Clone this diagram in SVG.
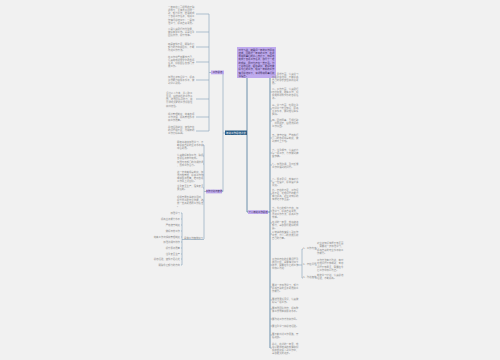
<svg xmlns="http://www.w3.org/2000/svg" width="500" height="360" viewBox="0 0 500 360">
<style>
.t{font-family:"Noto Sans CJK SC","Noto Sans",sans-serif;font-size:2.4px;fill:#8c8c8c}
.c{stroke:#8fa9bf;stroke-width:0.7;fill:none}
.cr{stroke:#4a7699;stroke-width:0.8;fill:none}
.p{fill:#bfaaee}
.pt{font-family:"Noto Sans CJK SC","Noto Sans",sans-serif;font-size:2.4px;fill:#3a2a5a}
</style>
<rect width="500" height="360" fill="#f1f1f1"/>
<g id="connectors">
<path class="c" d="M225 133H223M223 72.5V191.5M223 72.5H224M223 191.5H222"/>
<path class="c" d="M211 72.5H209M209 14V131M196 14H209M196 32H209M196 47H209M196 62H209M196 80H209M196 99H209M196 117H209M196 131H209"/>
<path class="c" d="M206 191.5H204M204 145V239M203 145H204M203 156H204M203 164H204M203 175H204M203 188H204M203 201H204M184 239.5H204"/>
<path class="c" d="M184 239.5H182M182 213V265M181 213H182M181 219H182M181 225H182M181 231H182M181 237H182M181 242H182M181 248H182M181 254H182M181 259H182M181 265H182"/>
<path class="cr" d="M247 133V78M247 133V212H248"/>
<path class="cr" d="M268 212H270M270 77V348"/>
<path class="c" d="M270 77H272M270 92H272M270 109H272M270 121H272M270 138H272M270 153H272M270 165H272M270 181H272M270 194H272M270 211H272M270 223H272M270 234H272M270 287H272M270 300H272M270 309H272M270 319H272M270 326H272M270 335H272M270 348H272"/>
<path class="c" d="M270 265H272M297 265H302M302 249V278M302 249H303M302 278H303M315 249H317M315 265H317M315 278H317"/>
</g>
<g id="center">
<rect x="225" y="130.5" width="22" height="4.5" fill="#2b5d86"/>
<text x="236" y="133.7" font-family="Noto Sans CJK SC,sans-serif" font-size="2.5" fill="#fff" text-anchor="middle">年终工作总结范文</text>
</g>
<g id="L1">
<rect class="p" x="211" y="70.5" width="13" height="3.8"/>
<text class="pt" x="217.5" y="73.2" text-anchor="middle">工作总结</text>
</g>
<g id="L1-children">
<text class="t" x="168" y="7.5"><tspan>一年来在公司领导的正确</tspan><tspan x="168" dy="3.3">领导下，全体员工团结一</tspan><tspan x="168" dy="3.3">致，努力工作，圆满完成</tspan><tspan x="168" dy="3.3">了各项工作任务，现将工</tspan><tspan x="168" dy="3.3">作情况总结如下：一是加</tspan><tspan x="168" dy="3.3">强学习，提高自身素质。</tspan></text>
<text class="t" x="168" y="29.5"><tspan>二是认真履行岗位职责，</tspan><tspan x="168" dy="3.3">做好本职工作。三是注重</tspan><tspan x="168" dy="3.3">团队协作，提升效率。</tspan></text>
<text class="t" x="168" y="44.5"><tspan>四是查找不足，明确今后</tspan><tspan x="168" dy="3.3">努力的方向和目标，不断</tspan><tspan x="168" dy="3.3">改进工作方法。</tspan></text>
<text class="t" x="168" y="57.5"><tspan>在工作中严格要求自己，</tspan><tspan x="168" dy="3.3">认真完成领导交办的各项</tspan><tspan x="168" dy="3.3">任务，积极配合各部门开</tspan><tspan x="168" dy="3.3">展工作。</tspan></text>
<text class="t" x="168" y="77.5"><tspan>加强业务知识学习，提高</tspan><tspan x="168" dy="3.3">工作能力和服务水平，做</tspan><tspan x="168" dy="3.3">到学以致用。</tspan></text>
<text class="t" x="166" y="93.5"><tspan>坚持以人为本，关心职工</tspan><tspan x="166" dy="3.3">生活，营造和谐的工作氛</tspan><tspan x="166" dy="3.3">围，增强团队凝聚力，充</tspan><tspan x="166" dy="3.3">分调动大家的工作积极性</tspan><tspan x="166" dy="3.3">和创造性。</tspan></text>
<text class="t" x="168" y="114.5"><tspan>规范管理制度，完善各项</tspan><tspan x="168" dy="3.3">工作流程，提高管理水平</tspan><tspan x="168" dy="3.3">和工作质量。</tspan></text>
<text class="t" x="168" y="127.5"><tspan>总结经验教训，查找存在</tspan><tspan x="168" dy="3.3">的问题和不足，为明年的</tspan><tspan x="168" dy="3.3">工作打好基础。</tspan></text>
</g>
<g id="L2">
<rect class="p" x="206" y="189.6" width="16" height="3.8"/>
<text class="pt" x="214" y="192.3" text-anchor="middle">工作计划与安排</text>
</g>
<g id="L2-children">
<text class="t" x="177" y="142.5"><tspan>明年将继续加强学习，不</tspan><tspan x="177" dy="3.3">断提高自身的业务水平和</tspan><tspan x="177" dy="3.3">综合素质。</tspan></text>
<text class="t" x="177" y="156"><tspan>认真做好本职工作，确保</tspan><tspan x="177" dy="3.3">各项任务按时完成。</tspan></text>
<text class="t" x="177" y="163"><tspan>加强与各部门的沟通协调</tspan><tspan x="177" dy="3.3">，形成工作合力。</tspan></text>
<text class="t" x="177" y="172.5"><tspan>进一步完善规章制度，加</tspan><tspan x="177" dy="3.3">强内部管理，提高工作效</tspan><tspan x="177" dy="3.3">率和服务质量，推动各项</tspan><tspan x="177" dy="3.3">工作再上新台阶。</tspan></text>
<text class="t" x="177" y="187"><tspan>注重安全生产，落实安全</tspan><tspan x="177" dy="3.3">责任制。</tspan></text>
<text class="t" x="177" y="197.5"><tspan>积极开展各类培训活动，</tspan><tspan x="177" dy="3.3">提升员工的专业技能，培</tspan><tspan x="177" dy="3.3">养一支高素质的工作队伍</tspan><tspan x="177" dy="3.3">。</tspan></text>
</g>
<g id="S">
<text class="t" x="184" y="238.8">具体工作措施如下</text>
</g>
<g id="S-children">
<text class="t" x="180" y="213.8" text-anchor="end">加强学习</text>
<text class="t" x="180" y="219.8" text-anchor="end">提高业务能力水平</text>
<text class="t" x="180" y="225.8" text-anchor="end">严格遵守制度</text>
<text class="t" x="180" y="231.8" text-anchor="end">做好日常工作</text>
<text class="t" x="180" y="237.8" text-anchor="end">完善工作流程和管理制度</text>
<text class="t" x="180" y="242.8" text-anchor="end">加强沟通与协作</text>
<text class="t" x="180" y="248.8" text-anchor="end">提升服务质量</text>
<text class="t" x="180" y="254.8" text-anchor="end">注重安全生产</text>
<text class="t" x="180" y="259.8" text-anchor="end">总结经验，查找不足之处</text>
<text class="t" x="180" y="265.8" text-anchor="end">明确今后努力的方向</text>
</g>
<g id="R1">
<rect class="p" x="237" y="47" width="39" height="31"/>
<text class="pt" x="238.5" y="50.5"><tspan>时光飞逝，转眼间一年的工作即将</tspan><tspan x="238.5" dy="3.3">结束，回顾这一年来的工作，在领</tspan><tspan x="238.5" dy="3.3">导和同事们的关心支持下，较好地</tspan><tspan x="238.5" dy="3.3">完成了各项工作任务，取得了一定</tspan><tspan x="238.5" dy="3.3">的成绩，同时也存在一些不足。为</tspan><tspan x="238.5" dy="3.3">了总结经验，吸取教训，更好地做</tspan><tspan x="238.5" dy="3.3">好今后的工作，现将一年来的工作</tspan><tspan x="238.5" dy="3.3">情况总结如下，请领导和同事们批</tspan><tspan x="238.5" dy="3.3">评指正。</tspan></text>
</g>
<g id="R2">
<rect class="p" x="248" y="210.2" width="20" height="3.8"/>
<text class="pt" x="258" y="212.9" text-anchor="middle">个人年终工作总结</text>
</g>
<g id="R2-children">
<text class="t" x="272" y="74.5"><tspan>一、思想方面，认真学习</tspan><tspan x="272" dy="3.3">各项政策法规，不断提高</tspan><tspan x="272" dy="3.3">自己的思想觉悟和政治素</tspan><tspan x="272" dy="3.3">质。</tspan></text>
<text class="t" x="272" y="89.5"><tspan>二、工作方面，认真履行</tspan><tspan x="272" dy="3.3">岗位职责，踏实工作，积</tspan><tspan x="272" dy="3.3">极完成领导交办的各项任</tspan><tspan x="272" dy="3.3">务。</tspan></text>
<text class="t" x="272" y="105.5"><tspan>三、学习方面，利用业余</tspan><tspan x="272" dy="3.3">时间学习专业知识，提高</tspan><tspan x="272" dy="3.3">业务水平，做到理论联系</tspan><tspan x="272" dy="3.3">实际。</tspan></text>
<text class="t" x="272" y="120.5"><tspan>四、团结同事，互相帮助</tspan><tspan x="272" dy="3.3">，共同进步，营造良好的</tspan><tspan x="272" dy="3.3">工作氛围。</tspan></text>
<text class="t" x="272" y="135.5"><tspan>五、遵守纪律，严格执行</tspan><tspan x="272" dy="3.3">公司的各项规章制度，做</tspan><tspan x="272" dy="3.3">到按时上下班。</tspan></text>
<text class="t" x="272" y="150.5"><tspan>六、注重细节，认真对待</tspan><tspan x="272" dy="3.3">每一项工作，力求做到精</tspan><tspan x="272" dy="3.3">益求精。</tspan></text>
<text class="t" x="272" y="164.5"><tspan>七、加强沟通，及时反馈</tspan><tspan x="272" dy="3.3">工作中遇到的问题。</tspan></text>
<text class="t" x="272" y="179.5"><tspan>八、服务意识，热情对待</tspan><tspan x="272" dy="3.3">每一位客户，提高客户满</tspan><tspan x="272" dy="3.3">意度。</tspan></text>
<text class="t" x="272" y="190.5"><tspan>九、存在的不足，工作经</tspan><tspan x="272" dy="3.3">验不足，处理问题的能力</tspan><tspan x="272" dy="3.3">有待提高，对业务知识的</tspan><tspan x="272" dy="3.3">掌握还不够全面。</tspan></text>
<text class="t" x="272" y="208.5"><tspan>十、今后的努力方向，加</tspan><tspan x="272" dy="3.3">强学习，提高自身素质，</tspan><tspan x="272" dy="3.3">改进工作方法，提高工作</tspan><tspan x="272" dy="3.3">效率。</tspan></text>
<text class="t" x="272" y="222.5"><tspan>在新的一年里，我将继续</tspan><tspan x="272" dy="3.3">努力，争取取得更好的成</tspan><tspan x="272" dy="3.3">绩。</tspan></text>
<text class="t" x="272" y="232.5"><tspan>以饱满的热情投入到工作</tspan><tspan x="272" dy="3.3">中去，为公司的发展贡献</tspan><tspan x="272" dy="3.3">自己的力量。</tspan></text>
<text class="t" x="272" y="259.5"><tspan>工作中存在的主要问题及</tspan><tspan x="272" dy="3.3">原因分析，具体情况如下</tspan><tspan x="272" dy="3.3">所示，需要在今后的工作</tspan><tspan x="272" dy="3.3">中加以改进：</tspan></text>
<text class="t" x="272" y="285.5"><tspan>要进一步加强学习，努力</tspan><tspan x="272" dy="3.3">提高自身的业务素质和工</tspan><tspan x="272" dy="3.3">作能力。</tspan></text>
<text class="t" x="272" y="299.5"><tspan>要增强责任意识，认真做</tspan><tspan x="272" dy="3.3">好每一项工作。</tspan></text>
<text class="t" x="272" y="308.5"><tspan>要加强团队协作，提高整</tspan><tspan x="272" dy="3.3">体工作效率和服务水平。</tspan></text>
<text class="t" x="272" y="320">要改进工作方法和作风。</text>
<text class="t" x="272" y="327">要注重学习和总结经验。</text>
<text class="t" x="272" y="335"><tspan>要不断创新工作思路，开</tspan><tspan x="272" dy="3.3">拓进取。</tspan></text>
<text class="t" x="272" y="344.5"><tspan>总之，在新的一年里，我</tspan><tspan x="272" dy="3.3">将以更加饱满的热情和积</tspan><tspan x="272" dy="3.3">极的态度投入到工作中，</tspan><tspan x="272" dy="3.3">争取更大的进步。</tspan></text>
</g>
<g id="R3">
<text class="t" x="303" y="248.8">1、工作内容</text>
<text class="t" x="303" y="264.8">2、存在问题</text>
<text class="t" x="303" y="277.8">3、改进措施</text>
</g>
<g id="R3-children">
<text class="t" x="317" y="244"><tspan>对业务知识掌握不够全面</tspan><tspan x="317" dy="3.3">，需要进一步加强学习，</tspan><tspan x="317" dy="3.3">提高自身的专业水平和工</tspan><tspan x="317" dy="3.3">作能力。</tspan></text>
<text class="t" x="317" y="261"><tspan>工作方法有待改进，有时</tspan><tspan x="317" dy="3.3">处理问题不够细致，考虑</tspan><tspan x="317" dy="3.3">问题不够周全，需要在今</tspan><tspan x="317" dy="3.3">后工作中加以改正。</tspan></text>
<text class="t" x="317" y="276"><tspan>制定学习计划，认真总结</tspan><tspan x="317" dy="3.3">经验，不断提高。</tspan></text>
</g>
</svg>
